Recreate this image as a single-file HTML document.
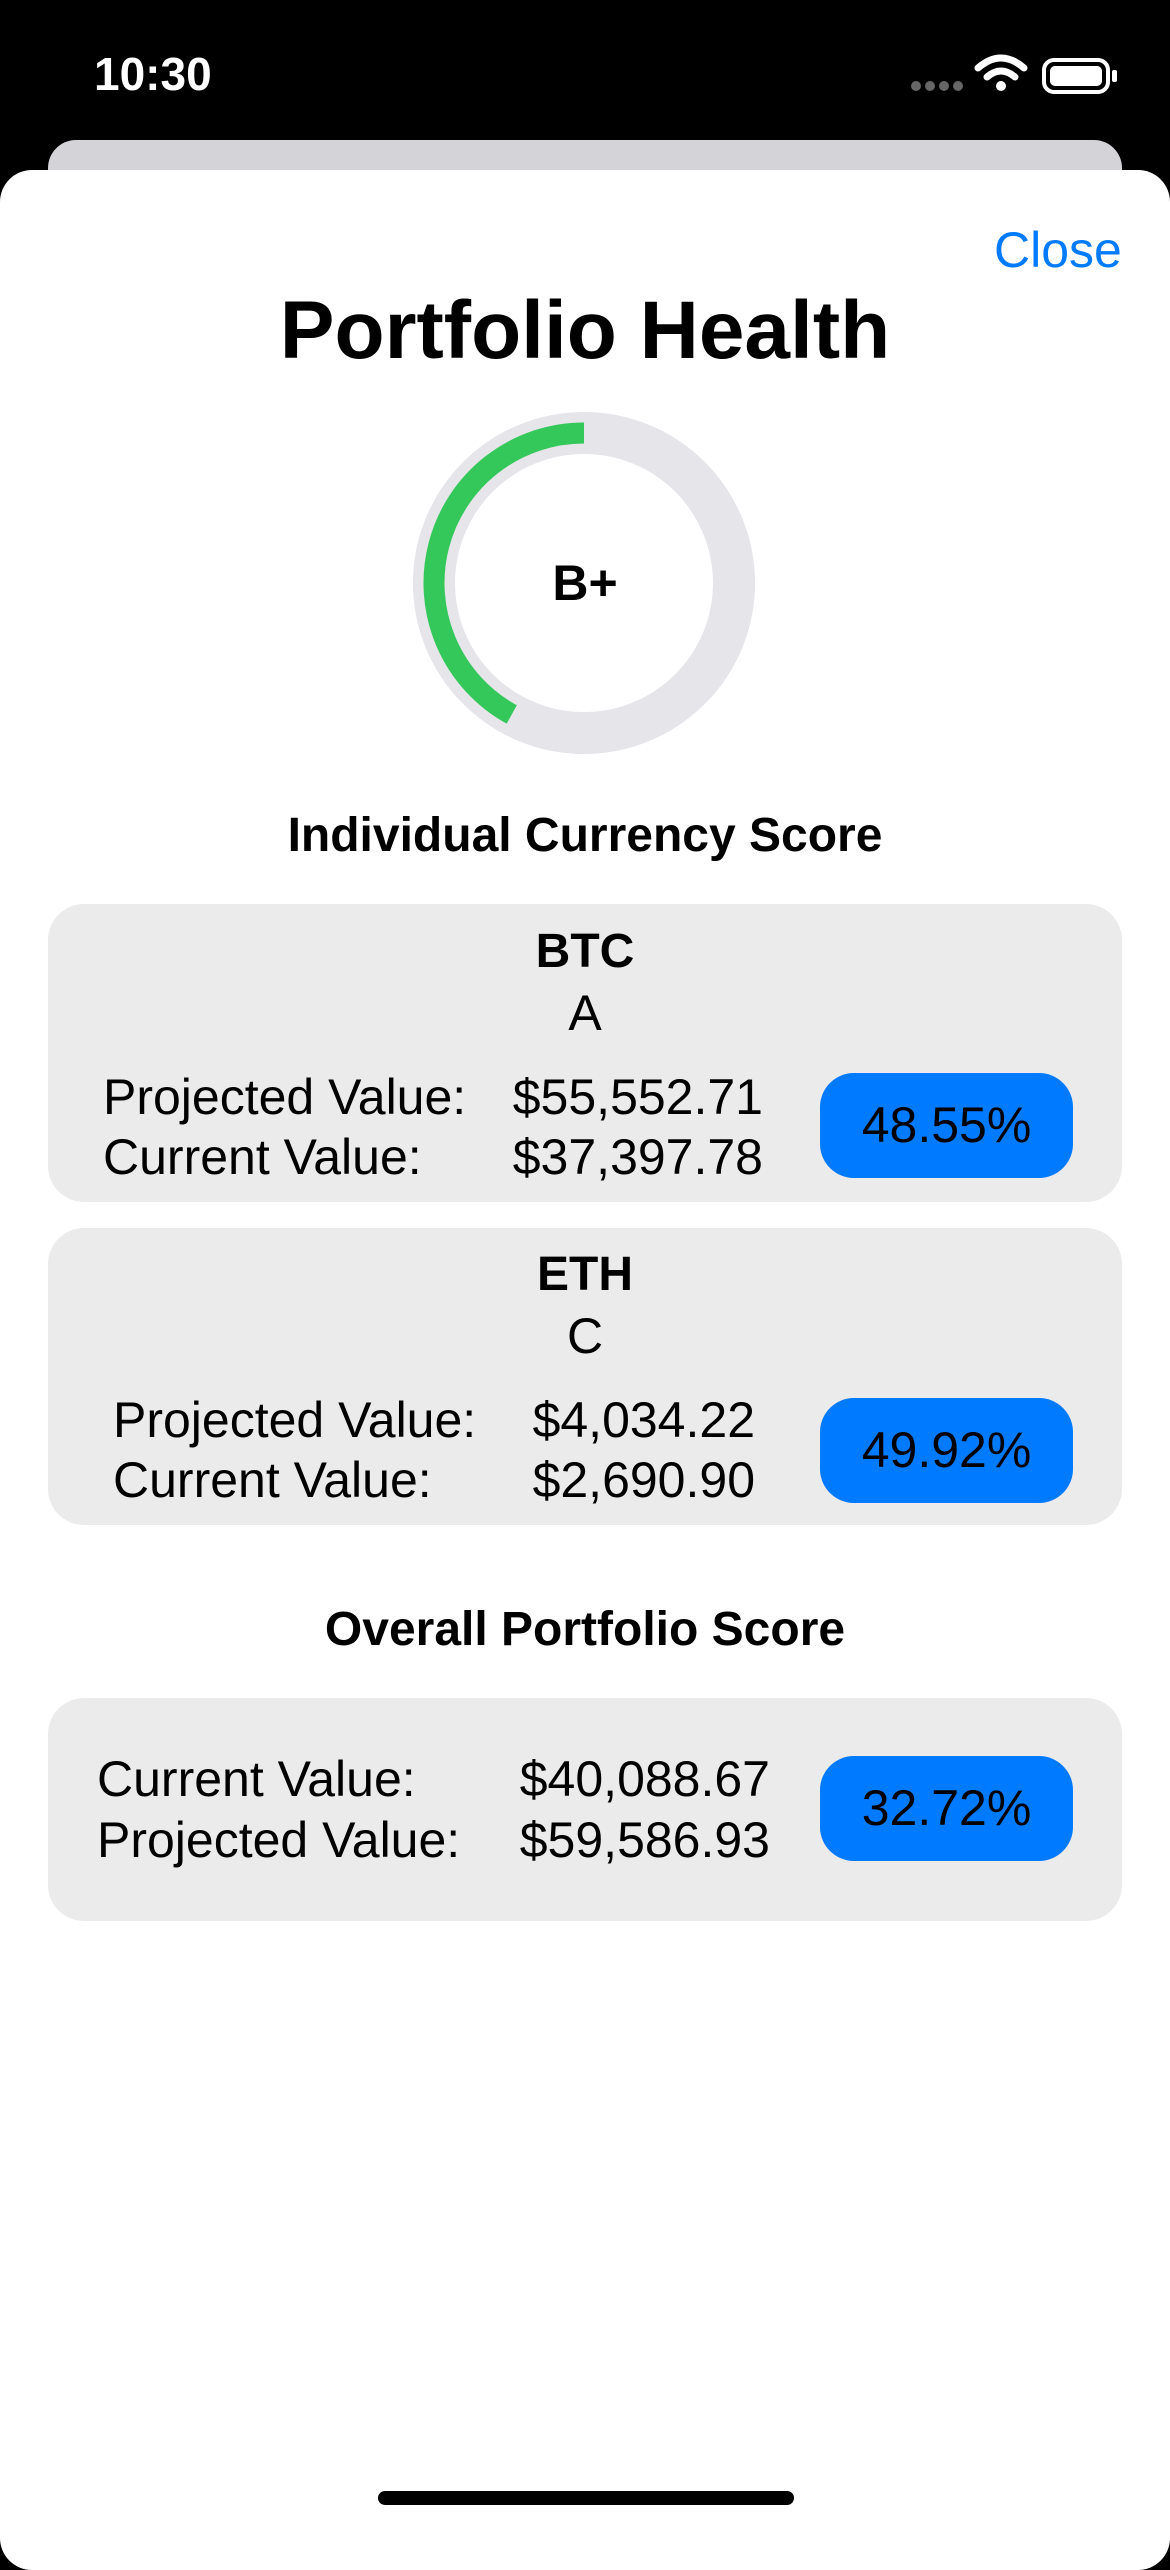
<!DOCTYPE html>
<html><head><meta charset="utf-8">
<style>
*{margin:0;padding:0;box-sizing:border-box}
body{width:1170px;height:2532px;background:#000;position:relative;overflow:hidden;font-family:"Liberation Sans",sans-serif;color:#000}
.abs{position:absolute}
.t{position:absolute;white-space:nowrap;line-height:70px;height:70px}
.c{left:0;width:1170px;text-align:center}
.card{position:absolute;left:48px;width:1074px;background:#ebebeb;border-radius:36px}
.badge{position:absolute;left:820px;width:253px;height:105px;background:#007aff;border-radius:34px;font-size:50px;line-height:105px;text-align:center}
.lbl{font-size:50px}
.val{font-size:50px;text-align:right}
</style></head><body>
<div class="t" style="left:94px;top:39px;font-size:46px;font-weight:600;color:#fff">10:30</div>
<svg class="abs" style="left:900px;top:50px" width="230" height="50">
 <g fill="#666"><circle cx="16" cy="36" r="5"/><circle cx="30" cy="36" r="5"/><circle cx="44" cy="36" r="5"/><circle cx="58" cy="36" r="5"/></g>
 <g fill="none" stroke="#fff" stroke-width="7" stroke-linecap="round">
  <path d="M78 18 Q101 -2 124 18"/><path d="M87 27 Q101 15 115 27"/></g>
 <circle cx="101" cy="36" r="5" fill="#fff"/>
 <rect x="144" y="10" width="64" height="32" rx="10" fill="none" stroke="#fff" stroke-width="4"/>
 <rect x="150" y="16" width="52" height="20" rx="5" fill="#fff"/>
 <rect x="212" y="20" width="5" height="12" rx="2" fill="#fff"/>
</svg>
<div class="abs" style="left:48px;top:140px;width:1074px;height:100px;background:#d4d4d8;border-radius:28px"></div>
<div class="abs" style="left:0;top:170px;width:1170px;height:2400px;background:#fff;border-radius:32px"></div>
<div class="t" style="left:994px;top:215px;font-size:50px;color:#007aff">Close</div>
<div class="t c" style="top:291px;font-size:82px;font-weight:700;line-height:80px;height:80px">Portfolio Health</div>
<svg id="ring" class="abs" style="left:0;top:0" width="1170" height="800"></svg>
<div class="t c" style="top:548px;font-size:50px;font-weight:700">B+</div>
<div class="t c" style="top:801px;font-size:48px;font-weight:600">Individual Currency Score</div>

<div class="card" style="top:904px;height:298px"></div>
<div class="t c" style="top:917px;font-size:48px;font-weight:700">BTC</div>
<div class="t c" style="top:978px;font-size:50px">A</div>
<div class="t lbl" style="left:103px;top:1062px">Projected Value:</div>
<div class="t lbl" style="left:103px;top:1122px">Current Value:</div>
<div class="t val" style="right:407px;top:1062px">$55,552.71</div>
<div class="t val" style="right:407px;top:1122px">$37,397.78</div>
<div class="badge" style="top:1073px">48.55%</div>

<div class="card" style="top:1228px;height:297px"></div>
<div class="t c" style="top:1240px;font-size:48px;font-weight:700">ETH</div>
<div class="t c" style="top:1301px;font-size:50px">C</div>
<div class="t lbl" style="left:113px;top:1385px">Projected Value:</div>
<div class="t lbl" style="left:113px;top:1445px">Current Value:</div>
<div class="t val" style="right:415px;top:1385px">$4,034.22</div>
<div class="t val" style="right:415px;top:1445px">$2,690.90</div>
<div class="badge" style="top:1398px">49.92%</div>

<div class="t c" style="top:1595px;font-size:48px;font-weight:600">Overall Portfolio Score</div>
<div class="card" style="top:1698px;height:223px"></div>
<div class="t lbl" style="left:97px;top:1744px">Current Value:</div>
<div class="t lbl" style="left:97px;top:1805px">Projected Value:</div>
<div class="t val" style="right:400px;top:1744px">$40,088.67</div>
<div class="t val" style="right:400px;top:1805px">$59,586.93</div>
<div class="badge" style="top:1756px">32.72%</div>

<div class="abs" style="left:378px;top:2491px;width:416px;height:14px;background:#000;border-radius:7px"></div>
<script>
const ringLabels = ["B+"];
const ringProgress = [0.42];
const cx = 584, cy = 583, r = 150;
const svg = document.getElementById('ring');
const ns = 'http://www.w3.org/2000/svg';
const track = document.createElementNS(ns, 'circle');


track.setAttribute('cx', cx); track.setAttribute('cy', cy); track.setAttribute('r', r);
track.setAttribute('fill', 'none'); track.setAttribute('stroke', '#e5e5ea'); track.setAttribute('stroke-width', 42);
svg.appendChild(track);
function pt(frac){ const a = -Math.PI/2 - frac*2*Math.PI; return [cx + r*Math.cos(a), cy + r*Math.sin(a)]; }
ringProgress.forEach(function(p){
  const s = pt(0), e = pt(p);
  const large = p > 0.5 ? 1 : 0;
  const path = document.createElementNS(ns, 'path');
  
  
  path.setAttribute('d', 'M'+s[0]+' '+s[1]+' A'+r+' '+r+' 0 '+large+' 0 '+e[0]+' '+e[1]);
  path.setAttribute('fill', 'none'); path.setAttribute('stroke', '#34c759'); path.setAttribute('stroke-width', 21);
  svg.appendChild(path);
});
</script>
</body></html>
